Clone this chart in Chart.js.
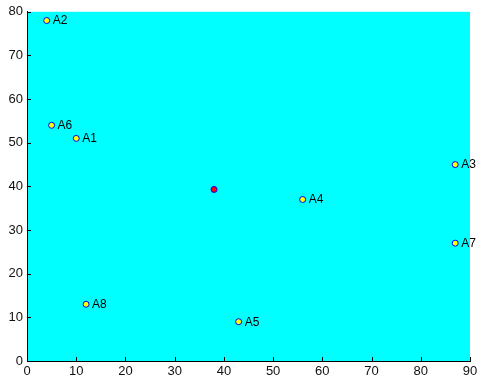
<!DOCTYPE html>
<html>
<head>
<meta charset="utf-8">
<script src="https://cdn.jsdelivr.net/npm/chart.js@4"></script>
<style>
  html, body { margin: 0; padding: 0; background: #fff; }
  #wrap { width: 478px; height: 378px; }
</style>
</head>
<body>
<div id="wrap"><canvas id="c" width="478" height="378"></canvas></div>
<script>
// Site labels and coordinates
const siteNames = ['A1', 'A2', 'A3', 'A4', 'A5', 'A6', 'A7', 'A8'];
const siteX = [10, 4, 87, 56, 43, 5, 87, 12];
const siteY = [51, 78, 45, 37, 9, 54, 27, 13];
// Centre point
const centerX = [38];
const centerY = [39.3];
// Axis ticks
const xTicks = [0, 10, 20, 30, 40, 50, 60, 70, 80, 90];
const yTicks = [0, 10, 20, 30, 40, 50, 60, 70, 80];

const sites = siteX.map((x, i) => ({ x: x, y: siteY[i], name: siteNames[i] }));
const center = centerX.map((x, i) => ({ x: x, y: centerY[i] }));

// Fill the plot area with cyan
const plotBackground = {
  id: 'plotBackground',
  beforeDraw(chart) {
    const { ctx, chartArea: a } = chart;
    ctx.save();
    ctx.fillStyle = '#00FFFF';
    ctx.fillRect(a.left, a.top, a.right - a.left, a.bottom - a.top);
    ctx.restore();
  }
};

// Inward tick marks on the left and bottom axes
const innerTicks = {
  id: 'innerTicks',
  afterDatasetsDraw(chart) {
    const { ctx, chartArea: a, scales } = chart;
    ctx.save();
    ctx.strokeStyle = '#000';
    ctx.lineWidth = 1;
    ctx.beginPath();
    xTicks.forEach(v => {
      const px = Math.round(scales.x.getPixelForValue(v)) + 0.5;
      ctx.moveTo(px, a.bottom);
      ctx.lineTo(px, a.bottom - 4);
    });
    yTicks.forEach(v => {
      const py = Math.round(scales.y.getPixelForValue(v)) + 0.5;
      ctx.moveTo(a.left, py);
      ctx.lineTo(a.left + 4, py);
    });
    ctx.stroke();
    ctx.restore();
  }
};

// Site name labels beside each marker
const siteLabels = {
  id: 'siteLabels',
  afterDatasetsDraw(chart) {
    const { ctx } = chart;
    const meta = chart.getDatasetMeta(0);
    ctx.save();
    ctx.font = '12px "Liberation Sans", Arial, sans-serif';
    ctx.fillStyle = '#000';
    ctx.textAlign = 'left';
    ctx.textBaseline = 'middle';
    meta.data.forEach((pt, i) => {
      ctx.fillText(sites[i].name, pt.x + 6, pt.y + 0.5);
    });
    ctx.restore();
  }
};

new Chart(document.getElementById('c'), {
  type: 'scatter',
  data: {
    datasets: [
      {
        data: sites,
        pointRadius: 3,
        pointHoverRadius: 3,
        pointBackgroundColor: '#FFFF00',
        pointBorderColor: '#0000FF',
        pointBorderWidth: 1
      },
      {
        data: center,
        pointRadius: 3,
        pointHoverRadius: 3,
        pointBackgroundColor: '#FF0000',
        pointBorderColor: '#0000FF',
        pointBorderWidth: 1
      }
    ]
  },
  options: {
    responsive: false,
    animation: false,
    events: [],
    layout: { padding: { top: 11, right: 8, left: 0, bottom: 0 } },
    plugins: {
      legend: { display: false },
      tooltip: { enabled: false }
    },
    scales: {
      x: {
        type: 'linear',
        min: 0,
        max: 90,
        afterBuildTicks(s) { s.ticks = xTicks.map(v => ({ value: v })); },
        afterFit(s) { s.height = 17; s.paddingRight = 0; },
        grid: { display: false, drawTicks: false, tickLength: 0 },
        border: { display: true, color: '#000', width: 1 },
        ticks: {
          padding: 3,
          color: '#111',
          font: { family: '"Liberation Sans", Arial, sans-serif', size: 13 },
          maxRotation: 0
        }
      },
      y: {
        type: 'linear',
        min: 0,
        max: 80,
        afterBuildTicks(s) { s.ticks = yTicks.map(v => ({ value: v })); },
        afterFit(s) { s.width = 27; },
        grid: { display: false, drawTicks: false, tickLength: 0 },
        border: { display: true, color: '#000', width: 1 },
        ticks: {
          padding: 4,
          color: '#111',
          font: { family: '"Liberation Sans", Arial, sans-serif', size: 13 }
        }
      }
    }
  },
  plugins: [plotBackground, innerTicks, siteLabels]
});
</script>
</body>
</html>
